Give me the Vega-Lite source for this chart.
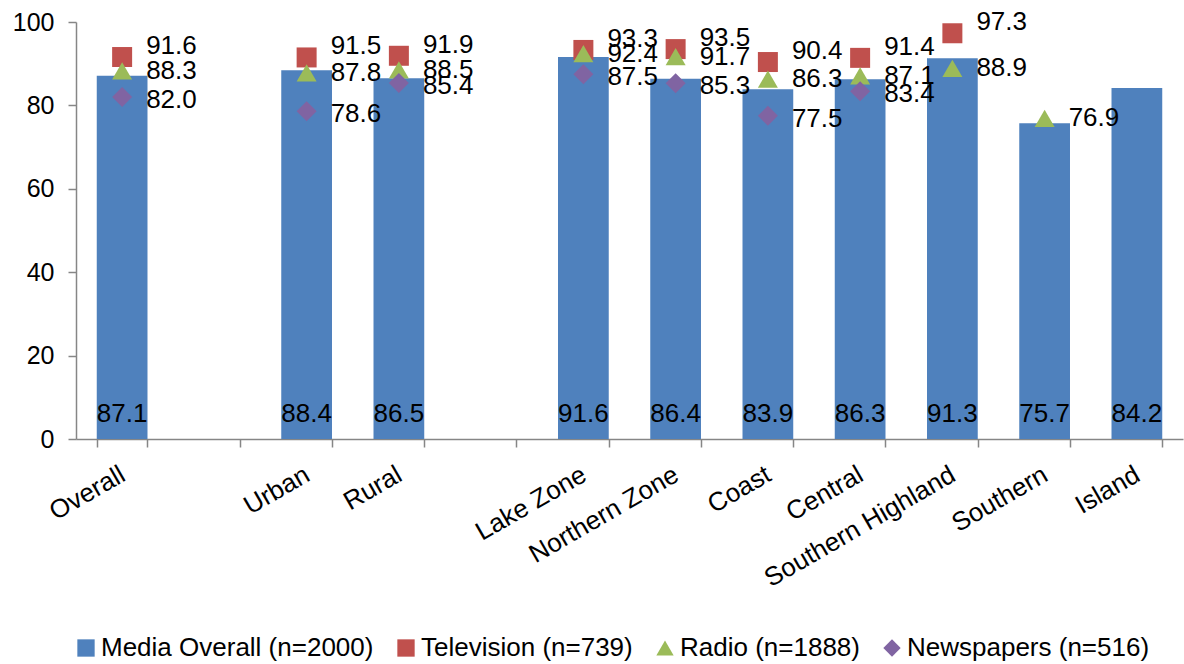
{
  "$schema": "https://vega.github.io/schema/vega-lite/v6.json",
  "width": 1107,
  "height": 417,
  "autosize": {"type": "none"},
  "padding": {"left": 76, "top": 22, "right": 1, "bottom": 225},
  "config": {
    "font": "Liberation Sans",
    "view": {"stroke": null},
    "axis": {
      "domainColor": "#868686",
      "tickColor": "#868686",
      "domainWidth": 1.5,
      "tickWidth": 1.5,
      "tickSize": 8,
      "labelColor": "#000000",
      "labelFont": "Liberation Sans",
      "labelFontSize": 25,
      "labelLimit": 400,
      "grid": false,
      "title": null
    },
    "legend": {
      "orient": "none",
      "legendX": -3,
      "legendY": 613,
      "direction": "horizontal",
      "title": null,
      "labelFont": "Liberation Sans",
      "labelFontSize": 26,
      "labelColor": "#000000",
      "labelOffset": 2,
      "symbolSize": 300,
      "symbolStrokeWidth": 0,
      "columnPadding": 19,
      "labelLimit": 400
    }
  },
  "data": {
    "values": [
      {"region": "Overall", "series": "Media Overall (n=2000)", "value": 87.1},
      {"region": "Overall", "series": "Television (n=739)", "value": 91.6},
      {"region": "Overall", "series": "Radio (n=1888)", "value": 88.3},
      {"region": "Overall", "series": "Newspapers (n=516)", "value": 82.0},
      {"region": "Urban", "series": "Media Overall (n=2000)", "value": 88.4},
      {"region": "Urban", "series": "Television (n=739)", "value": 91.5},
      {"region": "Urban", "series": "Radio (n=1888)", "value": 87.8},
      {"region": "Urban", "series": "Newspapers (n=516)", "value": 78.6},
      {"region": "Rural", "series": "Media Overall (n=2000)", "value": 86.5},
      {"region": "Rural", "series": "Television (n=739)", "value": 91.9},
      {"region": "Rural", "series": "Radio (n=1888)", "value": 88.5},
      {"region": "Rural", "series": "Newspapers (n=516)", "value": 85.4},
      {"region": "Lake Zone", "series": "Media Overall (n=2000)", "value": 91.6},
      {"region": "Lake Zone", "series": "Television (n=739)", "value": 93.3},
      {"region": "Lake Zone", "series": "Radio (n=1888)", "value": 92.4},
      {"region": "Lake Zone", "series": "Newspapers (n=516)", "value": 87.5},
      {"region": "Northern Zone", "series": "Media Overall (n=2000)", "value": 86.4},
      {"region": "Northern Zone", "series": "Television (n=739)", "value": 93.5},
      {"region": "Northern Zone", "series": "Radio (n=1888)", "value": 91.7},
      {"region": "Northern Zone", "series": "Newspapers (n=516)", "value": 85.3},
      {"region": "Coast", "series": "Media Overall (n=2000)", "value": 83.9},
      {"region": "Coast", "series": "Television (n=739)", "value": 90.4},
      {"region": "Coast", "series": "Radio (n=1888)", "value": 86.3},
      {"region": "Coast", "series": "Newspapers (n=516)", "value": 77.5},
      {"region": "Central", "series": "Media Overall (n=2000)", "value": 86.3},
      {"region": "Central", "series": "Television (n=739)", "value": 91.4},
      {"region": "Central", "series": "Radio (n=1888)", "value": 87.1},
      {"region": "Central", "series": "Newspapers (n=516)", "value": 83.4},
      {"region": "Southern Highland", "series": "Media Overall (n=2000)", "value": 91.3},
      {"region": "Southern Highland", "series": "Television (n=739)", "value": 97.3},
      {"region": "Southern Highland", "series": "Radio (n=1888)", "value": 88.9},
      {"region": "Southern", "series": "Media Overall (n=2000)", "value": 75.7},
      {"region": "Southern", "series": "Radio (n=1888)", "value": 76.9},
      {"region": "Island", "series": "Media Overall (n=2000)", "value": 84.2}
    ]
  },
  "encoding": {
    "x": {
      "field": "region",
      "type": "nominal",
      "sort": null,
      "scale": {
        "type": "band",
        "domain": ["Overall", " ", "Urban", "Rural", "  ", "Lake Zone", "Northern Zone", "Coast", "Central", "Southern Highland", "Southern", "Island"],
        "paddingInner": 0.45,
        "paddingOuter": 0.225
      },
      "axis": {"labelAngle": -30, "labelPadding": 14, "labelOffset": -6, "labelFontSize": 26, "tickBand": "extent"}
    }
  },
  "layer": [
    {
      "transform": [{"filter": "datum.series === 'Media Overall (n=2000)'"}],
      "mark": {"type": "bar"},
      "encoding": {
        "y": {
          "field": "value",
          "type": "quantitative",
          "scale": {"domain": [0, 100], "nice": false},
          "axis": {"values": [0, 20, 40, 60, 80, 100], "labelPadding": 14}
        },
        "color": {
          "field": "series",
          "type": "nominal",
          "scale": {
            "domain": ["Media Overall (n=2000)", "Television (n=739)", "Radio (n=1888)", "Newspapers (n=516)"],
            "range": ["#4F81BD", "#C0504D", "#9BBB59", "#8064A2"]
          }
        }
      }
    },
    {
      "transform": [{"filter": "datum.series === 'Media Overall (n=2000)'"}],
      "mark": {"type": "text", "fontSize": 26, "color": "#000000", "baseline": "middle", "align": "center", "dy": -25},
      "encoding": {
        "y": {"datum": 0, "type": "quantitative"},
        "text": {"field": "value", "type": "quantitative", "format": ".1f"}
      }
    },
    {
      "transform": [{"filter": "datum.series !== 'Media Overall (n=2000)'"}],
      "mark": {"type": "point", "filled": true, "opacity": 1, "size": 400},
      "encoding": {
        "y": {"field": "value", "type": "quantitative"},
        "color": {
          "field": "series",
          "type": "nominal",
          "scale": {
            "domain": ["Media Overall (n=2000)", "Television (n=739)", "Radio (n=1888)", "Newspapers (n=516)"],
            "range": ["#4F81BD", "#C0504D", "#9BBB59", "#8064A2"]
          }
        },
        "shape": {
          "field": "series",
          "type": "nominal",
          "scale": {
            "domain": ["Media Overall (n=2000)", "Television (n=739)", "Radio (n=1888)", "Newspapers (n=516)"],
            "range": ["square", "square", "triangle-up", "diamond"]
          }
        }
      }
    },
    {
      "transform": [{"filter": "datum.series === 'Television (n=739)'"}],
      "mark": {"type": "text", "fontSize": 26, "color": "#000000", "baseline": "middle", "align": "left", "dx": 24, "dy": -11},
      "encoding": {
        "y": {"field": "value", "type": "quantitative"},
        "text": {"field": "value", "type": "quantitative", "format": ".1f"}
      }
    },
    {
      "transform": [{"filter": "datum.series === 'Radio (n=1888)'"}],
      "mark": {"type": "text", "fontSize": 26, "color": "#000000", "baseline": "middle", "align": "left", "dx": 24, "dy": 0},
      "encoding": {
        "y": {"field": "value", "type": "quantitative"},
        "text": {"field": "value", "type": "quantitative", "format": ".1f"}
      }
    },
    {
      "transform": [{"filter": "datum.series === 'Newspapers (n=516)'"}],
      "mark": {"type": "text", "fontSize": 26, "color": "#000000", "baseline": "middle", "align": "left", "dx": 24, "dy": 3},
      "encoding": {
        "y": {"field": "value", "type": "quantitative"},
        "text": {"field": "value", "type": "quantitative", "format": ".1f"}
      }
    }
  ]
}
